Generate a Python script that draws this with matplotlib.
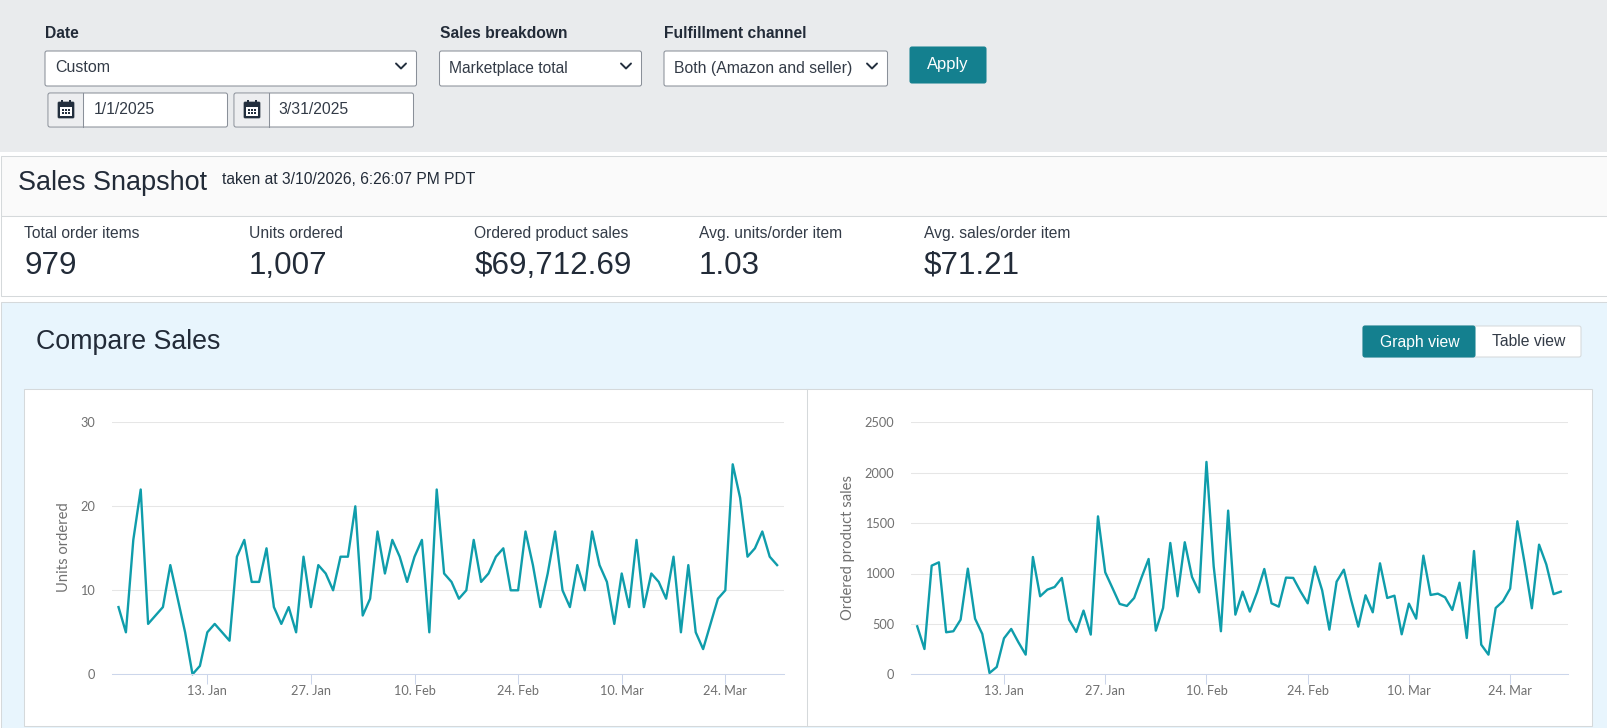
import matplotlib
matplotlib.use('Agg')
import matplotlib.pyplot as plt
from matplotlib.patches import FancyBboxPatch, Rectangle
import pandas as pd

W, H = 1607, 728

units_ordered = [8, 5, 16, 22, 6, 7, 8, 13, 9, 5, 0, 1, 5, 6, 5, 4, 14, 16, 11, 11, 15, 8, 6, 8, 5, 14, 8, 13, 12, 10,
                 14, 14, 20, 7, 9, 17, 12, 16, 14, 11, 14, 16, 5, 22, 12, 11, 9, 10, 16, 11, 12, 14, 15, 10, 10, 17, 13, 8, 12, 17,
                 10, 8, 13, 10, 17, 13, 11, 6, 12, 8, 16, 8, 12, 11, 9, 14, 5, 13, 5, 3, 6, 9, 10, 25, 21, 14, 15, 17, 14, 13]
product_sales = [476, 251, 1078, 1111, 417, 427, 542, 1048, 552, 400, 13, 73, 357, 450, 317, 195, 1164, 774, 840, 866,
                 956, 542, 420, 632, 394, 1567, 1012, 856, 698, 678, 757, 956, 1144, 433, 658, 1303, 774, 1310, 966, 813,
                 2107, 1071, 427, 1624, 592, 820, 622, 813, 1045, 704, 671, 959, 956, 823, 704, 1068, 833, 443, 919, 1038,
                 741, 473, 784, 615, 1101, 757, 780, 397, 701, 552, 1177, 787, 800, 764, 638, 909, 360, 1223, 294, 195,
                 658, 724, 850, 1518, 1104, 655, 1286, 1090, 795, 820]
tick_dates = ['2025-01-13', '2025-01-27', '2025-02-10', '2025-02-24', '2025-03-10', '2025-03-24']
tick_labels = ['13. Jan', '27. Jan', '10. Feb', '24. Feb', '10. Mar', '24. Mar']
units_ticks = [0, 10, 20, 30]
sales_ticks = [0, 500, 1000, 1500, 2000, 2500]
kpi_names = ['Total order items', 'Units ordered', 'Ordered product sales', 'Avg. units/order item', 'Avg. sales/order item']
kpi_values = ['979', '1,007', '$69,712.69', '1.03', '$71.21']
kpi_x = [24.5, 249, 474.5, 699, 923.5]

UI_FONT = 'Liberation Sans'
CHART_FONT = 'Lato'
TEAL = '#14808F'
LINE = '#0F9DAB'
DARK = '#222B38'
BORDER = '#8A9099'

fig = plt.figure(figsize=(W / 100, H / 100), dpi=100, facecolor='white')
ui = fig.add_axes([0, 0, 1, 1])
ui.set_xlim(0, W)
ui.set_ylim(H, 0)
ui.axis('off')


def px(size):
    return size * 0.72


def box(x0, y0, x1, y1, fc='white', ec=BORDER, lw=0.75, r=2):
    ui.add_patch(FancyBboxPatch((x0 + r, y0 + r), x1 - x0 - 2 * r, y1 - y0 - 2 * r,
                                boxstyle='round,pad=%s' % r, fc=fc, ec=ec, lw=lw))


def rect(x0, y0, x1, y1, fc, ec='none', lw=0.75):
    ui.add_patch(Rectangle((x0, y0), x1 - x0, y1 - y0, fc=fc, ec=ec, lw=lw))


def label(x, y, s, size, color=DARK, weight='normal', ha='left'):
    ui.text(x, y, s, fontsize=px(size), color=color, fontweight=weight, ha=ha, va='center', family=UI_FONT)


def chevron(x, y):
    ui.plot([x - 5, x, x + 5], [y - 2.5, y + 2.5, y - 2.5], color='#232F3E', lw=1.4, solid_capstyle='round')


def calendar(x0, x1, y0, y1):
    box(x0, y0, x1, y1, fc='white', ec=BORDER)
    rect(x0 + 1, y0 + 1, x0 + 35, y1 - 1, '#EDEEF0')
    ui.plot([x0 + 35, x0 + 35], [y0, y1], color=BORDER, lw=0.75)
    cx = x0 + 18
    cy = (y0 + y1) / 2
    box(cx - 8, cy - 8, cx + 8, cy + 8, fc='#232F3E', ec='#232F3E', lw=0.5, r=1)
    rect(cx - 6, cy - 3, cx + 6, cy + 6, 'white')
    for dy in (-1, 2):
        for dx in (-4, -1, 2):
            rect(cx + dx, cy + dy, cx + dx + 2, cy + dy + 2, '#232F3E')
    for dx in (-5, 3):
        rect(cx + dx, cy - 10, cx + dx + 2, cy - 7, '#232F3E')


# filter bar
rect(0, 0, W, 152, '#E9EBED')
label(45.5, 34, 'Date', 15.6, weight='bold')
label(440, 34, 'Sales breakdown', 15.6, weight='bold')
label(664.5, 34, 'Fulfillment channel', 15.6, weight='bold')
box(45, 51, 416.5, 86)
label(55.5, 68, 'Custom', 16, color='#333B47')
chevron(401, 66)
box(439.5, 51, 641.5, 86)
label(449, 68.5, 'Marketplace total', 15.6, color='#333B47')
chevron(626, 66)
box(664, 51, 887.5, 86)
label(674, 68.5, 'Both (Amazon and seller)', 15.8, color='#333B47')
chevron(872, 66)
box(910, 47, 986, 83, fc=TEAL, ec=TEAL)
label(948, 64.5, 'Apply', 16.5, color='white', ha='center')
calendar(48, 227.5, 93, 127)
label(94, 110, '1/1/2025', 15.8, color='#333B47')
calendar(234, 413.5, 93, 127)
label(278, 110, '3/31/2025', 15.8, color='#333B47')

# snapshot
rect(0.5, 156, W + 2, 216, '#FAFAFA', ec='#D5D9DB')
label(18.5, 182.5, 'Sales Snapshot', 27)
label(222.5, 180, 'taken at 3/10/2026, 6:26:07 PM PDT', 15.6)
rect(0.5, 216, W + 2, 296, 'white', ec='#D5D9DB')
for x, name, value in zip(kpi_x, kpi_names, kpi_values):
    label(x, 233.5, name, 15.6, color='#333B47')
    label(x, 266, value, 31.4)

# compare panel
rect(0.5, 302, W + 2, H + 2, '#E8F5FD', ec='#D5D9DB')
label(35.5, 342, 'Compare Sales', 26.7)
box(1363, 326, 1581, 357, fc='white', ec='#D5D9DB')
box(1363, 326, 1475, 357, fc=TEAL, ec=TEAL)
label(1419.5, 342, 'Graph view', 15.8, color='white', ha='center')
label(1528.5, 342, 'Table view', 15.8, color='#333B47', ha='center')
rect(24, 389, 1592, 725.5, 'white', ec='#D5D9DB')
ui.plot([807, 807], [389, 725.5], color='#D5D9DB', lw=0.75)

# charts
dates = pd.date_range('2025-01-01', '2025-03-31')
start = dates[0]


def chart(x0, x1, values, ticks, ymax, name, lo, hi, name_x):
    y_top, y_zero = 422.3, 674.3
    ax = fig.add_axes([x0 / W, 1 - y_zero / H, (x1 - x0) / W, (y_zero - y_top) / H], zorder=3)
    ax.patch.set_alpha(0)
    ax.plot(dates, values, color=LINE, lw=1.7, solid_joinstyle='round', clip_on=False)
    ax.set_xlim(start + pd.Timedelta(days=lo), start + pd.Timedelta(days=hi))
    ax.set_ylim(0, ymax)
    ax.set_yticks(ticks)
    ax.set_xticks(pd.to_datetime(tick_dates))
    ax.set_xticklabels(tick_labels)
    ax.grid(axis='y', color='#E6E6E6', lw=0.75)
    ax.set_axisbelow(True)
    for side in ('top', 'left', 'right'):
        ax.spines[side].set_visible(False)
    ax.spines['bottom'].set_color('#CCD6EB')
    ax.spines['bottom'].set_linewidth(0.75)
    ax.tick_params(axis='y', length=0, pad=12)
    ax.tick_params(axis='x', length=7, width=0.75, color='#CCD6EB', pad=1)
    for t in ax.get_xticklabels() + ax.get_yticklabels():
        t.set_family(CHART_FONT)
        t.set_fontsize(9.2)
        t.set_color('#707070')
    ax.set_ylabel(name, family=CHART_FONT, fontsize=10.6, color='#707070')
    ax.yaxis.set_label_coords((name_x - x0) / (x1 - x0), 0.505)
    return ax


chart(111.7, 784, units_ordered, units_ticks, 30, 'Units ordered', -0.92, 89.93, 71)
chart(911, 1568, product_sales, sales_ticks, 2500, 'Ordered product sales', -0.86, 90.0, 855)

fig.savefig('out.png', dpi=100)
